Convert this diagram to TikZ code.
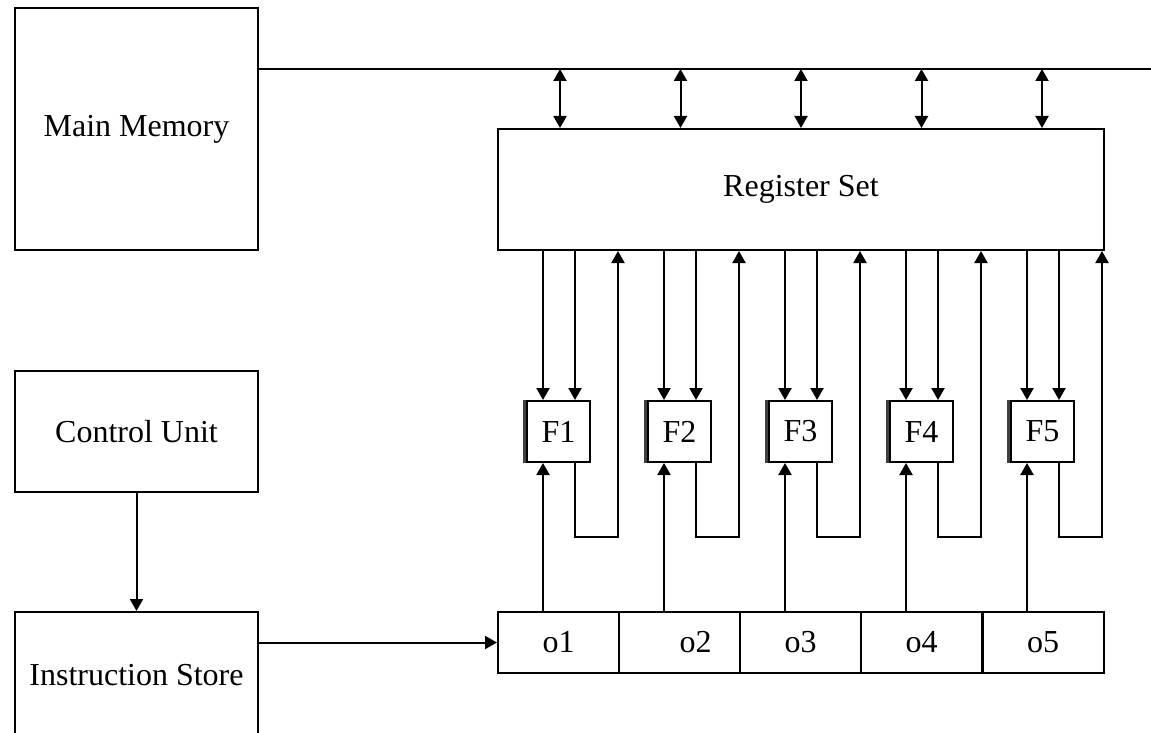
\documentclass[tikz,border=0pt]{standalone}
\usepackage{fontspec}
\setmainfont{Liberation Serif}
\usetikzlibrary{arrows.meta}
\begin{document}
\begin{tikzpicture}[x=0.5pt,y=-0.5pt,
  line width=1pt,
  >={Triangle[length=6pt,width=6.5pt]},
  box/.style={draw, minimum width=121.5pt, inner sep=0pt, font=\fontsize{16}{19}\selectfont},
  fbox/.style={draw, fill=white, minimum width=31.5pt, minimum height=30.5pt, inner sep=0pt, font=\fontsize{16}{19}\selectfont},
  cell/.style={draw, minimum width=60.5pt, minimum height=30.5pt, inner sep=0pt, font=\fontsize{16}{19}\selectfont},
  txt/.style={inner sep=0pt, font=\fontsize{16}{19}\selectfont},
  arr/.style={->},
  arrtwo/.style={<->}]
\clip (0,0) rectangle (1151,733);
% main blocks
\node[box, minimum height=121pt] (mm) at (136.5,129) {Main Memory};
\node[box, minimum height=60.5pt] (cu) at (136.5,431.5) {Control Unit};
\node[box, minimum height=121pt] (is) at (136.5,733) {};
\node[txt] (islab) at (136.5,675) {Instruction Store};
\node[draw, minimum width=303pt, minimum height=60.5pt, inner sep=0pt, font=\fontsize{16}{19}\selectfont] (rs) at (801,189.5) {Register Set};
% bus
\coordinate (busL) at (258,69);
\coordinate (busR) at (1151,69);
\draw (busL) -- (busR);
\foreach \k in {0,...,4} {
  \pgfmathsetmacro\bx{560+120.5*\k}
  \draw[arrtwo] (\bx,0 |- busL) -- (\bx,0 |- rs.north);
}
% opcode cells
\node[cell] (o1) at (558.5,642.5) {o1};
\node[cell, label={[txt, xshift=8pt]center:o2}] (o2) at (679.5,642.5) {};
\node[cell] (o3) at (800.5,642.5) {o3};
\node[cell] (o4) at (921.5,642.5) {o4};
\node[cell] (o5) at (1043,642.5) {o5};
% control connections
\draw[arr] (cu.south) -- (is.north);
\draw[arr] (is.east |- o1.west) -- (o1.west);
% functional units
\foreach \i in {1,...,5} {
  \pgfmathsetmacro\cx{558.5+121*(\i-1)}
  \pgfmathsetmacro\xl{\cx-15.5}
  \pgfmathsetmacro\xr{\cx+16.5}
  \pgfmathsetmacro\xt{\cx+59.5}
  \node[fbox] (F\i) at (\cx,431.5) {F\i};
  \fill[black!75] ([xshift=-1.5pt]F\i.south west) rectangle (F\i.north west);
  \draw[arr] (\xl,0 |- rs.south) -- (\xl,0 |- F\i.north);
  \draw[arr] (\xr,0 |- rs.south) -- (\xr,0 |- F\i.north);
  \draw[arr] (\xl,0 |- o\i.north) -- (\xl,0 |- F\i.south);
  \draw[arr] (\xr,0 |- F\i.south) -- (\xr,537) -- (\xt,537) -- (\xt,0 |- rs.south);
}
\end{tikzpicture}
\end{document}
